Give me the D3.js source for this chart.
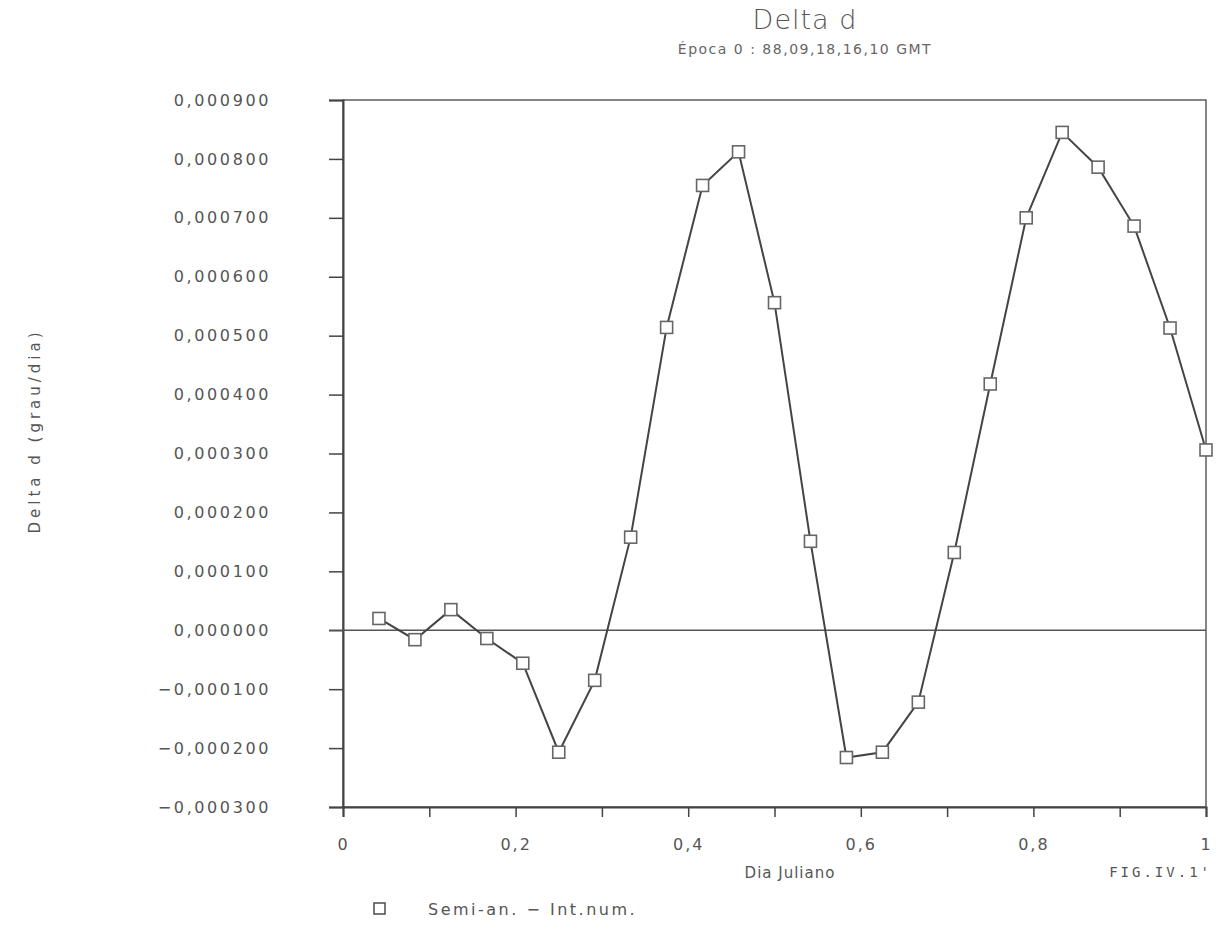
<!DOCTYPE html>
<html>
<head>
<meta charset="utf-8">
<script src="https://cdn.jsdelivr.net/npm/d3@7"></script>
<style>
  body { margin: 0; background: #fff; }
  text { font-family: "DejaVu Sans", sans-serif; fill: #555; }
</style>
</head>
<body>
<div id="chart"></div>
<script>
// Dia Juliano (fraction of day) and Delta d (grau/dia)
const dias = [1, 2, 3, 4, 5, 6, 7, 8, 9, 10, 11, 12, 13, 14, 15, 16, 17, 18, 19, 20, 21, 22, 23, 24].map(k => k / 24);
const deltaD = [
    0.000020, -0.000016, 0.000035, -0.000014, -0.000056, -0.000207,
    -0.000085, 0.000158, 0.000514, 0.000755, 0.000812, 0.000556,
    0.000151, -0.000216, -0.000207, -0.000122, 0.000132, 0.000418,
    0.000700, 0.000845, 0.000786, 0.000686, 0.000513, 0.000306
];
const yTicks = [-0.0003, -0.0002, -0.0001, 0, 0.0001, 0.0002, 0.0003, 0.0004, 0.0005, 0.0006, 0.0007, 0.0008, 0.0009];
const xTicks = [0, 0.1, 0.2, 0.3, 0.4, 0.5, 0.6, 0.7, 0.8, 0.9, 1];
const xLabels = [0, 0.2, 0.4, 0.6, 0.8, 1];

const width = 1225, height = 937;
const margin = { left: 343, right: 19, top: 100, bottom: 130 };
const plotW = width - margin.left - margin.right;
const plotH = height - margin.top - margin.bottom;

const svg = d3.select("#chart")
    .append("svg")
    .attr("width", width)
    .attr("height", height);

const x = d3.scaleLinear().domain([0, 1]).range([margin.left, margin.left + plotW]);
const y = d3.scaleLinear().domain([-0.0003, 0.0009]).range([margin.top + plotH, margin.top]);

const ink = "#444";
const fmtY = v => {
    const s = Math.abs(v).toFixed(6).replace(".", ",");
    return (v < 0 ? "\u2212" : "") + s;
};
const fmtX = v => v === 0 || v === 1 ? String(v) : String(v).replace(".", ",");

// Frame
svg.append("rect")
    .attr("x", x(0)).attr("y", y(0.0009))
    .attr("width", plotW).attr("height", plotH)
    .attr("fill", "none").attr("stroke", ink).attr("stroke-width", 1.3);

// Y axis
const yAxis = svg.append("g")
    .attr("transform", `translate(${x(0)},0)`)
    .call(d3.axisLeft(y).tickValues(yTicks).tickSize(14).tickPadding(12).tickFormat(fmtY));
yAxis.select(".domain").attr("stroke", ink).attr("stroke-width", 2);
yAxis.selectAll(".tick line").attr("stroke", ink).attr("stroke-width", 1.5)
    .attr("x1", -14).attr("x2", 0);
yAxis.selectAll(".tick text").attr("font-size", 16).attr("fill", "#666")
    .attr("letter-spacing", 2.6)
    .attr("font-family", "DejaVu Sans, sans-serif").attr("x", -72);

// X axis
const xAxis = svg.append("g")
    .attr("transform", `translate(0,${y(-0.0003)})`)
    .call(d3.axisBottom(x).tickValues(xTicks).tickSize(10).tickPadding(22)
        .tickFormat(d => xLabels.some(v => Math.abs(v - d) < 1e-9) ? fmtX(d) : ""));
xAxis.select(".domain").attr("stroke", ink).attr("stroke-width", 2);
xAxis.selectAll(".tick line").attr("stroke", ink).attr("stroke-width", 1.5);
xAxis.selectAll(".tick text").attr("font-size", 16).attr("fill", "#555")
    .attr("letter-spacing", 2)
    .attr("font-family", "DejaVu Sans, sans-serif");

// Zero line
svg.append("line")
    .attr("x1", x(0) - 14).attr("x2", x(1))
    .attr("y1", y(0)).attr("y2", y(0))
    .attr("stroke", "#555").attr("stroke-width", 1.3);

// Series
const pts = dias.map((d, i) => [d, deltaD[i]]);
svg.append("path")
    .datum(pts)
    .attr("fill", "none")
    .attr("stroke", ink)
    .attr("stroke-width", 2)
    .attr("d", d3.line().x(d => x(d[0])).y(d => y(d[1])));

svg.selectAll(".mark")
    .data(pts)
    .enter()
    .append("rect")
    .attr("class", "mark")
    .attr("x", d => x(d[0]) - 6)
    .attr("y", d => y(d[1]) - 6)
    .attr("width", 12).attr("height", 12)
    .attr("fill", "#fff").attr("stroke", "#666").attr("stroke-width", 1.6);

// Titles
svg.append("text")
    .attr("x", 805).attr("y", 29)
    .attr("text-anchor", "middle")
    .attr("font-size", 27).attr("font-weight", 300)
    .attr("letter-spacing", 1)
    .style("fill", "#555")
    .text("Delta d");

svg.append("text")
    .attr("x", 805).attr("y", 54)
    .attr("text-anchor", "middle")
    .attr("font-size", 14)
    .attr("letter-spacing", 1.5)
    .style("fill", "#666")
    .text("Época 0 : 88,09,18,16,10 GMT");

svg.append("text")
    .attr("transform", "translate(40,431) rotate(-90)")
    .attr("text-anchor", "middle")
    .attr("font-size", 15)
    .attr("letter-spacing", 4)
    .style("fill", "#555")
    .text("Delta d (grau/dia)");

svg.append("text")
    .attr("x", 790).attr("y", 878)
    .attr("text-anchor", "middle")
    .attr("font-size", 15)
    .attr("letter-spacing", 1)
    .style("fill", "#555")
    .text("Dia Juliano");

svg.append("text")
    .attr("x", 1212).attr("y", 877)
    .attr("text-anchor", "end")
    .attr("font-size", 14)
    .attr("letter-spacing", 3)
    .style("font-family", "DejaVu Sans Mono, monospace")
    .style("fill", "#555")
    .text("FIG.IV.1'");

// Legend
svg.append("rect")
    .attr("x", 374).attr("y", 903)
    .attr("width", 11).attr("height", 11)
    .attr("fill", "#fff").attr("stroke", "#555").attr("stroke-width", 1.6);
svg.append("text")
    .attr("x", 428).attr("y", 915)
    .attr("font-size", 16)
    .attr("letter-spacing", 2.5)
    .style("fill", "#555")
    .text("Semi-an. \u2212 Int.num.");
</script>
</body>
</html>
